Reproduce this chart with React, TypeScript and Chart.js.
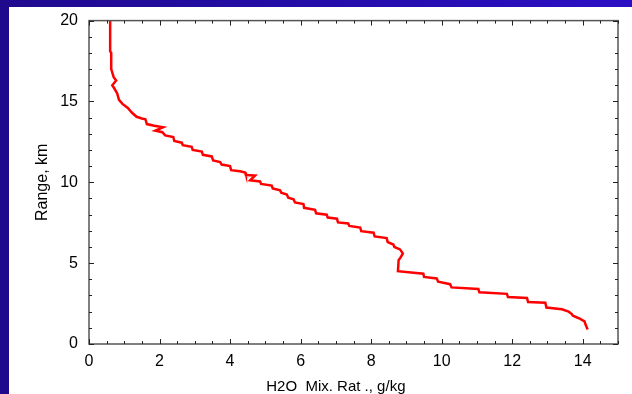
import React, { useEffect, useRef } from "react";
import { Chart, registerables } from "chart.js";

Chart.register(...registerables);

// H2O mixing ratio (g/kg) profile vs range (km)
const mixRatio = [
  0.60, 0.60, 0.63, 0.63, 0.70, 0.77, 0.66, 0.72, 0.80, 0.85, 0.95, 1.10, 1.22, 1.35, 1.50, 1.60,
  1.64, 1.85, 2.10, 1.88, 2.08, 2.16, 2.39, 2.42, 2.63, 2.66, 2.91, 2.94, 3.20, 3.23, 3.48, 3.52,
  3.72, 3.76, 4.00, 4.03, 4.28, 4.43, 4.45, 4.71, 4.57, 4.85, 4.88, 5.18, 5.21, 5.42, 5.45, 5.61,
  5.65, 5.80, 5.84, 6.08, 6.10, 6.41, 6.44, 6.74, 6.77, 7.03, 7.06, 7.35, 7.38, 7.69, 7.72, 8.07,
  8.10, 8.44, 8.47, 8.63, 8.66, 8.82, 8.90, 8.82, 8.78, 8.76, 9.48, 9.50, 9.86, 9.90, 10.24, 10.28,
  11.04, 11.07, 11.85, 11.88, 12.42, 12.45, 12.94, 12.97, 13.41, 13.60, 13.69, 13.72, 13.93, 14.05,
  14.08, 14.14,
];
const rangeKm = [
  20.0, 18.1, 18.0, 17.0, 16.5, 16.3, 16.0, 15.8, 15.5, 15.1, 14.85, 14.6, 14.3, 14.05, 13.95, 13.9,
  13.6, 13.5, 13.4, 13.2, 13.1, 12.9, 12.8, 12.55, 12.45, 12.3, 12.2, 12.0, 11.9, 11.7, 11.6, 11.35,
  11.25, 11.1, 11.0, 10.75, 10.68, 10.6, 10.45, 10.42, 10.12, 10.05, 9.9, 9.8, 9.62, 9.5, 9.35, 9.25,
  9.05, 8.95, 8.75, 8.65, 8.42, 8.3, 8.08, 8.0, 7.82, 7.75, 7.52, 7.45, 7.3, 7.2, 6.98, 6.88,
  6.65, 6.55, 6.3, 6.15, 6.0, 5.85, 5.6, 5.3, 5.2, 4.5, 4.35, 4.15, 4.05, 3.85, 3.7, 3.5,
  3.4, 3.2, 3.1, 2.9, 2.85, 2.6, 2.55, 2.25, 2.15, 2.0, 1.85, 1.75, 1.55, 1.4,
  1.2, 0.9,
];

const xTickValues = [0, 2, 4, 6, 8, 10, 12, 14];
const yTickValues = [0, 5, 10, 15, 20];
const xMinorStep = 0.5;
const yMinorStep = 1;
const xMin = 0, xMax = 15, yMin = 0, yMax = 20;

const xTitle = "H2O  Mix. Rat ., g/kg";
const yTitle = "Range, km";
const fontFamily = "'Liberation Sans', Arial, sans-serif";

const framePlugin = {
  id: "frameTicks",
  afterDatasetsDraw(chart: any) {
    const { ctx, chartArea: a, scales } = chart;
    const xs = scales.x, ys = scales.y;
    ctx.save();
    ctx.strokeStyle = "#555";
    ctx.lineWidth = 1.5;
    ctx.strokeRect(a.left, a.top, a.right - a.left, a.bottom - a.top);
    ctx.strokeStyle = "#222";
    ctx.lineWidth = 1;
    ctx.beginPath();
    for (let v = xMin; v <= xMax + 1e-9; v += xMinorStep) {
      const px = Math.round(xs.getPixelForValue(v)) + 0.5;
      const len = xTickValues.includes(v) ? 5 : 3;
      ctx.moveTo(px, a.bottom);
      ctx.lineTo(px, a.bottom - len);
      ctx.moveTo(px, a.top);
      ctx.lineTo(px, a.top + len);
    }
    for (let v = yMin; v <= yMax + 1e-9; v += yMinorStep) {
      const py = Math.round(ys.getPixelForValue(v)) + 0.5;
      const len = yTickValues.includes(v) ? 5 : 3;
      ctx.moveTo(a.left, py);
      ctx.lineTo(a.left + len, py);
      ctx.moveTo(a.right, py);
      ctx.lineTo(a.right - len, py);
    }
    ctx.stroke();
    // x-axis title, centred under the middle of the value range
    ctx.fillStyle = "#000";
    ctx.font = `15px ${fontFamily}`;
    ctx.textAlign = "center";
    ctx.textBaseline = "alphabetic";
    ctx.fillText(xTitle, xs.getPixelForValue(7), chart.height - 3);
    ctx.restore();
  },
};

export default function App() {
  const ref = useRef<HTMLCanvasElement | null>(null);
  useEffect(() => {
    if (!ref.current) return;
    const font = { family: fontFamily, size: 16 };
    const chart = new Chart(ref.current, {
      type: "scatter",
      data: {
        datasets: [
          {
            data: mixRatio.map((x, i) => ({ x, y: rangeKm[i] })),
            showLine: true,
            borderColor: "#ff0000",
            backgroundColor: "#ff0000",
            borderWidth: 2.5,
            pointRadius: 0,
            tension: 0,
          },
        ],
      },
      options: {
        animation: false,
        responsive: false,
        devicePixelRatio: 1,
        layout: { padding: { top: 19, right: 14, left: 0, bottom: 0 } },
        plugins: { legend: { display: false }, tooltip: { enabled: false } },
        scales: {
          x: {
            type: "linear",
            min: xMin,
            max: xMax,
            afterBuildTicks: (s: any) => {
              s.ticks = xTickValues.map((v) => ({ value: v }));
            },
            afterFit: (s: any) => {
              s.height = 50;
            },
            grid: { display: false, drawTicks: false },
            border: { display: false },
            ticks: { color: "#000", font, padding: 8, maxRotation: 0 },
            title: { display: false },
          },
          y: {
            type: "linear",
            min: yMin,
            max: yMax,
            afterBuildTicks: (s: any) => {
              s.ticks = yTickValues.map((v) => ({ value: v }));
            },
            afterFit: (s: any) => {
              s.width = 89;
            },
            grid: { display: false, drawTicks: false },
            border: { display: false },
            ticks: { color: "#000", font, padding: 11 },
            title: { display: true, text: yTitle, color: "#000", font, padding: { top: 33, bottom: 0 } },
          },
        },
      },
      plugins: [framePlugin],
    } as any);
    return () => chart.destroy();
  }, []);

  return (
    <div
      style={{
        position: "fixed",
        left: 0,
        top: 0,
        width: 632,
        height: 394,
        background: "linear-gradient(90deg, #1f0a8e, #2a10c4)",
      }}
    >
      <div style={{ position: "absolute", left: 9, top: 7, right: 0, bottom: 0, background: "#fff" }} />
      <canvas ref={ref} width={632} height={394} style={{ position: "absolute", left: 0, top: 0 }} />
    </div>
  );
}
